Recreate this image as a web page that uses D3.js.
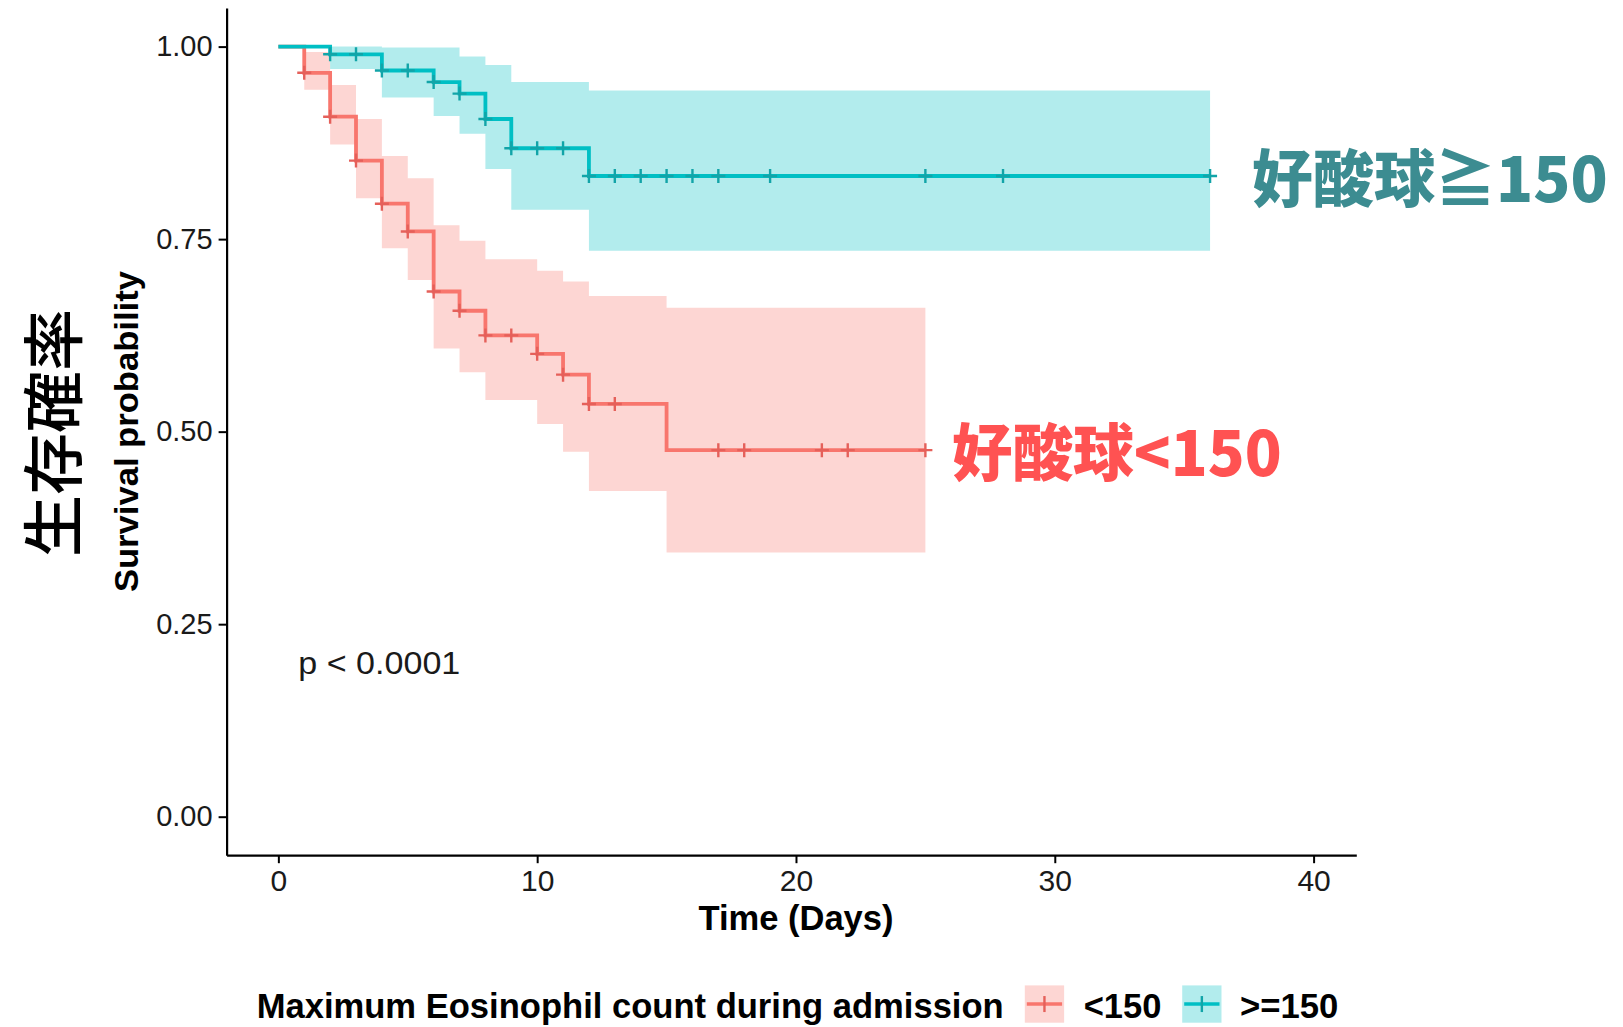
<!DOCTYPE html>
<html><head><meta charset="utf-8">
<script src="https://cdn.jsdelivr.net/npm/d3@7"></script>
<style>body{margin:0;background:#fff;} svg{display:block;}</style>
</head><body>
<svg id="c" width="1623" height="1027"></svg>
<script>
// ---- data ----
const groups = ["<150", ">=150"];
const lowTimes  = [0, 1, 2, 3, 4, 5, 6, 7, 8, 10, 11, 12, 15];
const lowSurv   = [1, 0.966, 0.909, 0.852, 0.796, 0.760, 0.682, 0.657, 0.625, 0.601, 0.574, 0.536, 0.476];
const lowUpper  = [1, 0.993, 0.950, 0.906, 0.858, 0.829, 0.768, 0.748, 0.724, 0.709, 0.695, 0.676, 0.661];
const lowLower  = [1, 0.944, 0.873, 0.803, 0.738, 0.697, 0.608, 0.577, 0.541, 0.510, 0.474, 0.423, 0.343];
const lowEnd    = 25;
const lowCensor = [1, 2, 3, 4, 5, 6, 7, 8, 9, 10, 11, 12, 13, 17, 18, 21, 22, 25];

const highTimes  = [0, 2, 4, 6, 7, 8, 9, 12];
const highSurv   = [1, 0.990, 0.969, 0.954, 0.939, 0.906, 0.868, 0.832];
const highUpper  = [1, 1.000, 0.999, 0.999, 0.987, 0.976, 0.954, 0.943];
const highLower  = [1, 0.971, 0.934, 0.910, 0.887, 0.841, 0.788, 0.735];
const highEnd    = 36;
const highCensor = [2, 3, 4, 5, 6, 7, 8, 9, 10, 11, 12, 13, 14, 15, 16, 17, 19, 25, 28, 36];

const xTicks = [0, 10, 20, 30, 40];
const yTicks = [0, 0.25, 0.5, 0.75, 1];
const pText = "p < 0.0001";

// ---- drawing ----
const svg = d3.select("#c");
const x = d3.scaleLinear().domain([-2, 41.65]).range([226.6, 1356.3]);
const y = d3.scaleLinear().domain([-0.05, 1.05]).range([855.2, 8.1]);
const colors = {"<150": "#F8766D", ">=150": "#00BFC4"};
const tickCol = {"<150": "#E5605A", ">=150": "#12A4A8"};

function series(times, surv, up, lo, end) {
  const pts = times.map((t, i) => ({t, s: surv[i], u: up[i], l: lo[i]}));
  const last = pts[pts.length - 1];
  pts.push({t: end, s: last.s, u: last.u, l: last.l});
  return pts;
}
const data = {
  "<150": {pts: series(lowTimes, lowSurv, lowUpper, lowLower, lowEnd), censor: lowCensor, times: lowTimes, surv: lowSurv},
  ">=150": {pts: series(highTimes, highSurv, highUpper, highLower, highEnd), censor: highCensor, times: highTimes, surv: highSurv}
};

const area = d3.area().curve(d3.curveStepAfter)
  .x(d => x(d.t)).y0(d => y(d.l)).y1(d => y(d.u));
const line = d3.line().curve(d3.curveStepAfter)
  .x(d => x(d.t)).y(d => y(d.s));

groups.forEach(g => {
  svg.append("path").attr("d", area(data[g].pts))
    .attr("fill", colors[g]).attr("fill-opacity", 0.3).attr("stroke", "none");
});
groups.forEach(g => {
  svg.append("path").attr("d", line(data[g].pts))
    .attr("fill", "none").attr("stroke", colors[g]).attr("stroke-width", 3.8);
});
function survAt(g, t) {
  const d = data[g]; let v = 1;
  d.times.forEach((tt, i) => { if (tt <= t) v = d.surv[i]; });
  return v;
}
groups.forEach(g => {
  svg.append("g").selectAll("path").data(data[g].censor).join("path")
    .attr("d", t => {
      const cx = x(t), cy = y(survAt(g, t));
      return `M${cx-7},${cy}H${cx+7}M${cx},${cy-7}V${cy+7}`;
    })
    .attr("stroke", tickCol[g]).attr("stroke-width", 2.4).attr("fill", "none");
});

// axes
const yAxis = d3.axisLeft(y).tickValues(yTicks).tickFormat(d3.format(".2f"))
  .tickSize(8).tickSizeOuter(0).tickPadding(6);
const gy = svg.append("g").attr("transform", "translate(226.6,0)").call(yAxis);
const xAxis = d3.axisBottom(x).tickValues(xTicks).tickFormat(d3.format("d"))
  .tickSize(8).tickSizeOuter(0).tickPadding(7);
const gx = svg.append("g").attr("transform", "translate(0,855.2)").call(xAxis);
[gx, gy].forEach(g => {
  g.select(".domain").attr("stroke", "#000").attr("stroke-width", 2.2);
  g.selectAll(".tick line").attr("stroke", "#000").attr("stroke-width", 2);
  g.selectAll(".tick text").attr("fill", "#1a1a1a")
    .style("font-family", "'Liberation Sans', Arial, sans-serif").style("font-size", "29px");
});
gx.selectAll(".tick text").style("font-size", "30px");

// texts
const sans = "'Liberation Sans', Arial, sans-serif";
const cjk = "'Noto Sans CJK JP', 'Noto Sans CJK SC', sans-serif";

svg.append("text").attr("x", 298.3).attr("y", 674.3).attr("textLength", 162)
  .attr("lengthAdjust", "spacingAndGlyphs")
  .style("font-family", sans).style("font-size", "31px").attr("fill", "#1a1a1a").text(pText);

svg.append("text").attr("transform", "translate(138,431.6) rotate(-90)")
  .attr("text-anchor", "middle").attr("textLength", 321).attr("lengthAdjust", "spacingAndGlyphs")
  .style("font-family", sans).style("font-size", "33px").style("font-weight", "bold")
  .attr("fill", "#000").text("Survival probability");

svg.append("text").attr("transform", "translate(50,433) rotate(-90)")
  .attr("text-anchor", "middle").attr("dominant-baseline", "central")
  .style("font-family", cjk).style("font-size", "62px").style("font-weight", 500)
  .attr("fill", "#000").text("生存確率");

svg.append("text").attr("x", x(20)).attr("y", 929.5)
  .attr("text-anchor", "middle").attr("textLength", 195).attr("lengthAdjust", "spacingAndGlyphs")
  .style("font-family", sans).style("font-size", "35px").style("font-weight", "bold")
  .attr("fill", "#000").text("Time (Days)");

svg.append("text").attr("x", 1251.7).attr("y", 202).attr("textLength", 356)
  .attr("lengthAdjust", "spacingAndGlyphs")
  .style("font-family", cjk).style("font-size", "62px").style("font-weight", 900)
  .attr("fill", "#3C8C91").text("好酸球≧150");

svg.append("text").attr("x", 951.7).attr("y", 476).attr("textLength", 330)
  .attr("lengthAdjust", "spacingAndGlyphs")
  .style("font-family", cjk).style("font-size", "62px").style("font-weight", 900)
  .attr("fill", "#FF5252").text("好酸球<150");

// legend
svg.append("text").attr("x", 256.7).attr("y", 1018).attr("textLength", 747)
  .attr("lengthAdjust", "spacingAndGlyphs")
  .style("font-family", sans).style("font-size", "35px").style("font-weight", "bold")
  .attr("fill", "#000").text("Maximum Eosinophil count during admission");

const legendItems = [
  {g: "<150", kx: 1024.8, tx: 1083.7, tl: 77.7},
  {g: ">=150", kx: 1182.2, tx: 1240, tl: 98.3}
];
legendItems.forEach(it => {
  const kw = 39.3, ky = 985.4, kh = 37.3;
  svg.append("rect").attr("x", it.kx).attr("y", ky).attr("width", kw).attr("height", kh)
    .attr("fill", colors[it.g]).attr("fill-opacity", 0.3);
  svg.append("path").attr("d", `M${it.kx+2},${ky+kh/2}H${it.kx+kw-2}`)
    .attr("stroke", colors[it.g]).attr("stroke-width", 3.4);
  svg.append("path").attr("d", `M${it.kx+kw/2},${ky+kh/2-8}V${ky+kh/2+8}`)
    .attr("stroke", tickCol[it.g]).attr("stroke-width", 2.4);
  svg.append("text").attr("x", it.tx).attr("y", 1018).attr("textLength", it.tl)
    .attr("lengthAdjust", "spacingAndGlyphs")
    .style("font-family", sans).style("font-size", "35px").style("font-weight", "bold")
    .attr("fill", "#000").text(it.g);
});
</script>
</body></html>
